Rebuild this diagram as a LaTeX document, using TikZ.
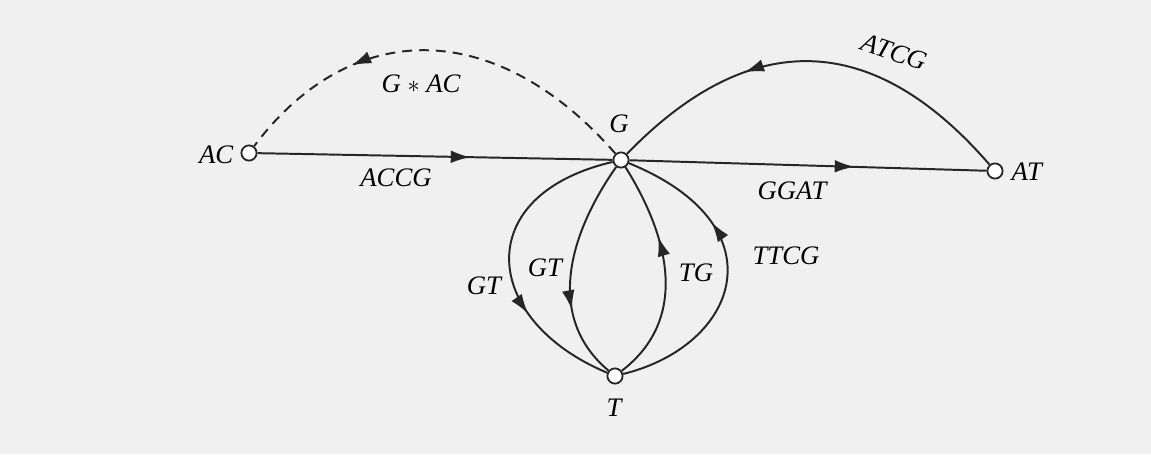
\documentclass[tikz,border=0pt]{standalone}
\usepackage{fontspec}
\setmainfont{Liberation Serif}
\usetikzlibrary{arrows.meta,decorations.markings}

\begin{document}
\begin{tikzpicture}[
    x=0.025cm, y=-0.025cm,
    vertex/.style={circle, draw=black!85, line width=1.3pt, fill=white, minimum size=0.38cm, inner sep=0pt},
    seq/.style={font=\fontsize{19}{22}\selectfont\itshape, inner sep=1pt},
    link/.style={line width=1.4pt, draw=black!85},
    midarrow/.style={postaction={decorate}, decoration={markings, mark=at position #1 with {\arrow[black!85]{Latex[length=14pt,width=9pt]}}}}
]
    \fill[black!6] (0,0) rectangle (1151,454);

    % Vertices
    \node[vertex] (AC) at (249,153) {};
    \node[vertex] (G) at (621,160) {};
    \node[vertex] (AT) at (995,171) {};
    \node[vertex] (T) at (615,376) {};

    % Vertex names
    \node[seq, anchor=east] (nAC) at (235,155) {AC};
    \node[seq] (nG) at (619,124) {G};
    \node[seq, anchor=west] (nAT) at (1010,172) {AT};
    \node[seq] (nT) at (614,408) {T};

    % Edges
    \draw[link, midarrow=0.6] (AC) -- (G);
    \draw[link, midarrow=0.63] (G) -- (AT);
    \draw[link, dash pattern=on 7pt off 5pt, midarrow=0.7] (G) .. controls (496,17) and (351,17) .. (AC);
    \draw[link, midarrow=0.66] (AT) .. controls (873,30) and (750,27) .. (G);
    \draw[link, midarrow=0.68] (G) .. controls (470,195) and (481,320) .. (T);
    \draw[link, midarrow=0.68] (G) .. controls (565,240) and (548,320) .. (T);
    \draw[link, midarrow=0.66] (T) .. controls (688,320) and (671,240) .. (G);
    \draw[link, midarrow=0.67] (T) .. controls (740,345) and (781,225) .. (G);

    % Edge labels
    \node[seq] (lACCG) at (396,178) {ACCG};
    \node[seq] (lGGAT) at (792,191) {GGAT};
    \node[seq] (lGAC) at (421,84) {G $\ast$ AC};
    \node[seq, rotate=-19] (lATCG) at (894,52) {ATCG};
    \node[seq] (lGTa) at (484,286) {GT};
    \node[seq] (lGTb) at (545,268) {GT};
    \node[seq] (lTG) at (696,273) {TG};
    \node[seq] (lTTCG) at (786,256) {TTCG};
\end{tikzpicture}
\end{document}
